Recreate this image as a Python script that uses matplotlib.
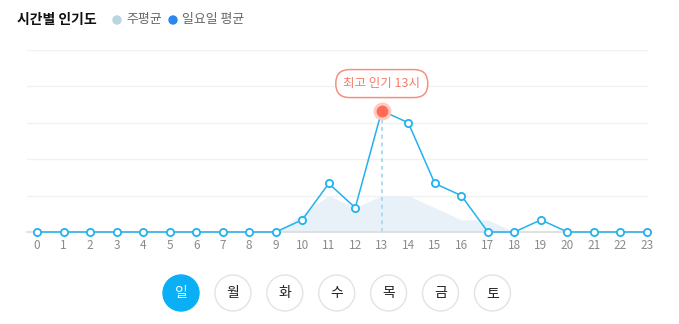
import matplotlib.pyplot as plt
from matplotlib.patches import Circle

plt.rcParams['font.family'] = ['Noto Sans CJK KR', 'DejaVu Sans']

# hourly popularity, Sunday vs. weekly average
hours = list(range(24))
sunday = [0, 0, 0, 0, 0, 0, 0, 0, 0, 0, 1, 4, 2, 10, 9, 4, 3, 0, 0, 1, 0, 0, 0, 0]
week_avg = [0, 0, 0, 0, 0, 0, 0, 0, 0, 0, 1.5, 3, 2, 3, 3, 2, 1, 1, 0, 0, 0, 0, 0, 0]
days = ['일', '월', '화', '수', '목', '금', '토']
peak_hour = 13

W, H = 679, 324
fig = plt.figure(figsize=(W / 100, H / 100), dpi=100)

# main chart area (pixel placement)
left, right, top, base = 27, 648, 50, 232
ax = fig.add_axes([left / W, 1 - base / H, (right - left) / W, (base - top) / H])
px_per_hour = 610 / 23
ax.set_xlim(-(37 - left) / px_per_hour, 23 + (right - 647) / px_per_hour)
ax.set_ylim(0, 15)

for s in ['top', 'right', 'left']:
    ax.spines[s].set_visible(False)
ax.spines['bottom'].set_color('#dcdcdc')
ax.spines['bottom'].set_linewidth(1.2)
ax.set_yticks([3, 6, 9, 12, 15])
ax.set_yticklabels([])
ax.tick_params(axis='y', length=0)
ax.grid(axis='y', color='#f1f1f1', linewidth=1)
ax.set_axisbelow(True)
ax.set_xticks(hours)
ax.set_xticklabels([str(h) for h in hours], fontsize=8.5, color='#8a8a8a')
ax.tick_params(axis='x', length=0, pad=5)

ax.fill_between(hours, week_avg, 0, color='#e9f1f8', linewidth=0, zorder=1)

peak_val = sunday[hours.index(peak_hour)]
ax.plot([peak_hour, peak_hour], [0, peak_val], color='#a9dcf5', lw=1.4,
        linestyle=(0, (2, 2)), zorder=2)

ax.plot(hours, sunday, color='#22b2ee', lw=1.1, marker='o', markersize=5.2,
        markerfacecolor='white', markeredgecolor='#22b2ee', markeredgewidth=1.3,
        zorder=3, clip_on=False)

# highlight the busiest hour
ax.plot(peak_hour, peak_val, 'o', markersize=13, color='#ffc6bb', alpha=0.9,
        markeredgewidth=0, zorder=4, clip_on=False)
ax.plot(peak_hour, peak_val, 'o', markersize=8.5, color='#ff6b57',
        markeredgewidth=0, zorder=5, clip_on=False)
ax.annotate(f'최고 인기 {peak_hour}시', xy=(peak_hour, peak_val), xytext=(0, 19.5),
            textcoords='offset points', ha='center', va='center',
            fontsize=9, color='#f47a66', zorder=6,
            bbox=dict(boxstyle='round,pad=0.6,rounding_size=1.1',
                      fc='white', ec='#f4907f', lw=1.1))

# overlay for header and day selector
deco = fig.add_axes([0, 0, 1, 1], zorder=-1)
deco.set_xlim(0, W)
deco.set_ylim(H, 0)
deco.axis('off')

deco.text(17, 20, '시간별 인기도', fontsize=10, fontweight='bold', color='#111111',
          va='center', ha='left')
deco.add_patch(Circle((117, 20), 4, color='#b8d5e0'))
deco.text(126, 20, '주평균', fontsize=9.3, color='#666666', va='center', ha='left')
deco.add_patch(Circle((173, 20), 4, color='#2b86f0'))
deco.text(182, 20, '일요일 평균', fontsize=9.3, color='#666666', va='center', ha='left')

for i, d in enumerate(days):
    cx = 181 + i * 51.9
    if i == 0:
        deco.add_patch(Circle((cx, 293), 18, fc='#0aaff5', ec='#0aaff5', lw=1))
        deco.text(cx, 293, d, fontsize=10, color='white', ha='center', va='center')
    else:
        deco.add_patch(Circle((cx, 293), 18, fc='white', ec='#e3e3e3', lw=1))
        deco.text(cx, 293, d, fontsize=10, color='#222222', ha='center', va='center')

fig.savefig('out.png', dpi=100)
